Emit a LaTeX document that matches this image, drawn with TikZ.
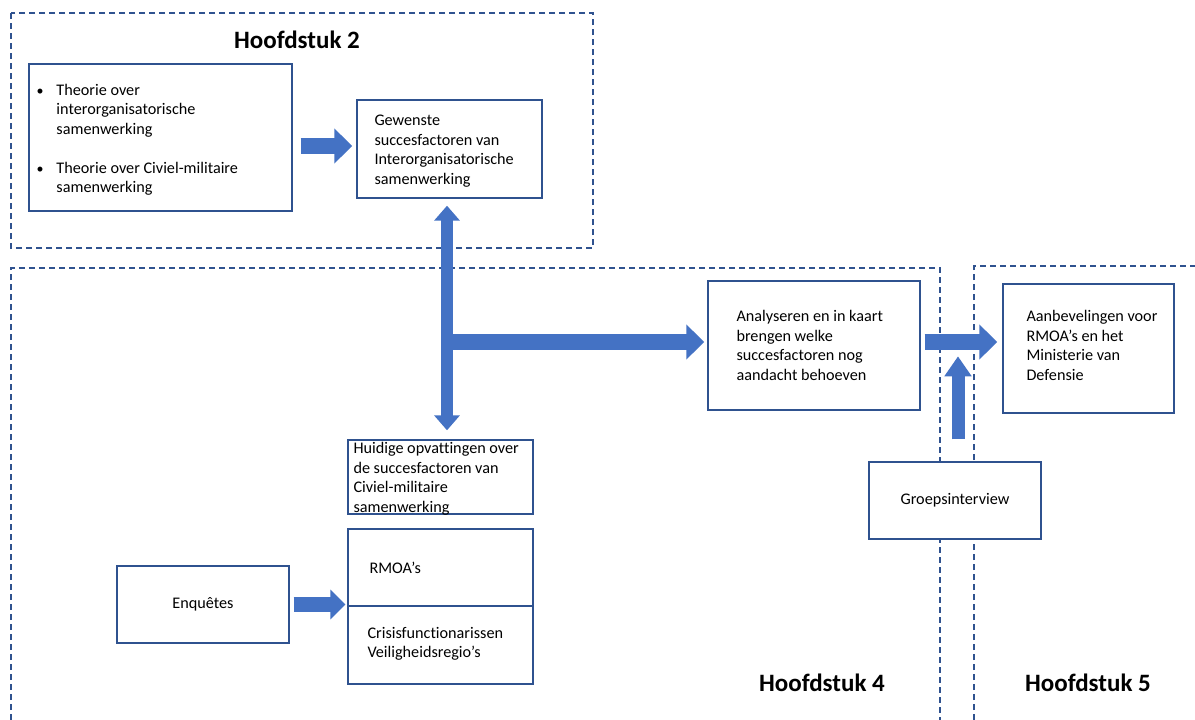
\documentclass[tikz,border=0pt]{standalone}
\usepackage{fontspec}
\setmainfont[Ligatures=NoCommon]{Carlito}
\usetikzlibrary{arrows.meta,calc}
\definecolor{bdr}{HTML}{2F528F}
\definecolor{afill}{HTML}{4472C4}
\definecolor{dsh}{HTML}{2F528F}
\newcommand\mybul{\makebox[20pt][l]{\fontsize{14}{14}\selectfont\textbullet}}
\begin{document}
\begin{tikzpicture}[x=1pt,y=-1pt,
  frame/.style={draw=dsh, line width=1.3pt, dash pattern=on 6pt off 4pt},
  box/.style={draw=bdr, line width=1.4pt, fill=white, inner sep=0pt},
  txt/.style={inner sep=0pt, align=left, font=\fontsize{16.2}{19.5}\selectfont},
  ctxt/.style={inner sep=0pt, align=center, font=\fontsize{16.2}{19.5}\selectfont},
  title/.style={inner sep=0pt, font=\fontsize{25}{30}\selectfont\bfseries},
  barrow/.style={draw=afill, line width=16pt, -{Triangle[length=18pt, width=34pt]}},
  varrow/.style={draw=afill, line width=12pt, {Triangle[length=15pt, width=25pt]}-{Triangle[length=15pt, width=25pt]}},
  uarrow/.style={draw=afill, line width=13pt, -{Triangle[length=20pt, width=26pt]}},
  earrow/.style={draw=afill, line width=15pt, -{Triangle[length=15pt, width=29pt]}}
]
\useasboundingbox[fill=white] (0,0) rectangle (1195,720);

% dashed chapter frames
\draw[frame] (11,13) rectangle (593,248);
\draw[frame] (11,720) -- (11,268) -- (940,268) -- (940,720);
\draw[frame] (974,720) -- (974,266) -- (1195,266);

% titles
\node[title] (h2) at (297,40) {Hoofdstuk 2};
\node[title] (h4) at (822,683) {Hoofdstuk 4};
\node[title] (h5) at (1088,683) {Hoofdstuk 5};

% boxes
\node[box, minimum width=263, minimum height=147] (A) at (160.5,137.5) {};
\node[box, minimum width=185, minimum height=98] (B) at (449.5,149) {};
\node[box, minimum width=212, minimum height=129] (C) at (814,345.5) {};
\node[box, minimum width=171, minimum height=129] (D) at (1088.5,348.5) {};
\node[box, minimum width=185, minimum height=74] (E) at (440.5,477) {};
\node[box, minimum width=185, minimum height=77] (F1) at (440.5,567.5) {};
\node[box, minimum width=185, minimum height=78] (F2) at (440.5,645) {};
\node[box, minimum width=172, minimum height=77] (Enq) at (203,604.5) {};
\node[box, minimum width=172, minimum height=77] (G) at (955,500.5) {};

% texts
\node[txt, anchor=west] (At) at ($(A.west)+(8,2.5)$)
  {\mybul Theorie over\\
   \hspace*{20pt}interorganisatorische\\
   \hspace*{20pt}samenwerking\\[19.5pt]
   \mybul Theorie over Civiel-militaire\\
   \hspace*{20pt}samenwerking};
\node[txt, anchor=west] (Bt) at ($(B.west)+(18,2)$)
  {Gewenste\\succesfactoren van\\Interorganisatorische\\samenwerking};
\node[txt, anchor=west] (Ct) at ($(C.west)+(29,0)$)
  {Analyseren en in kaart\\brengen welke\\succesfactoren nog\\aandacht behoeven};
\node[txt, anchor=west] (Dt) at ($(D.west)+(24,-3)$)
  {Aanbevelingen voor\\RMOA’s en het\\Ministerie van\\Defensie};
\node[txt, anchor=west] (Et) at ($(E.west)+(6,2)$)
  {Huidige opvattingen over\\de succesfactoren van\\Civiel-militaire\\samenwerking};
\node[txt, anchor=west] (F1t) at ($(F1.west)+(22,0)$) {RMOA’s};
\node[txt, anchor=west] (F2t) at ($(F2.west)+(20,-1)$) {Crisisfunctionarissen\\Veiligheidsregio’s};
\node[ctxt] (Enqt) at (Enq.center) {Enquêtes};
\node[ctxt] (Gt) at (G.center) {Groepsinterview};

% block arrows
\coordinate (vx) at (447,342);
\draw[barrow] ($(A.east |- B.west)+(8,-3)$) -- ($(B.west)+(-4,-3)$);
\draw[varrow] ($(vx |- B.south)+(0,7)$) -- ($(vx |- E.north)+(0,-9)$);
\draw[barrow] ($(vx)+(-4,0)$) -- ($(vx -| C.west)+(-3,0)$);
\draw[barrow] ($(C.east)+(4,-3.5)$) -- ($(C.east -| D.west)+(-5,-3.5)$);
\draw[uarrow] ($(G.north)+(3,-22)$) -- ($(G.north)+(3,-105)$);
\draw[earrow] ($(Enq.east)+(4,0)$) -- ($(Enq.east -| F1.west)+(-2,0)$);
\end{tikzpicture}
\end{document}
